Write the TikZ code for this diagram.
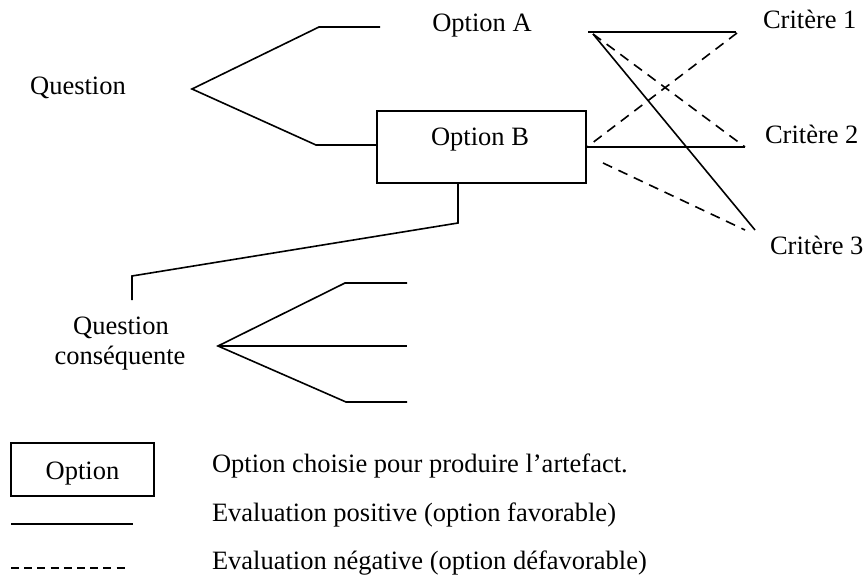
\documentclass[tikz,border=0pt]{standalone}
\usepackage{fontspec}
\setmainfont{Liberation Serif}
\begin{document}
\begin{tikzpicture}[x=0.5pt,y=-0.5pt,
  lbl/.style={inner sep=0pt,outer sep=0pt,font=\fontsize{13.25}{15}\selectfont},
  ln/.style={line width=0.8pt,line join=miter},
  dsh/.style={line width=0.8pt,dash pattern=on 5pt off 3.5pt},
  ldsh/.style={line width=0.8pt,dash pattern=on 4pt off 2.6pt},
  boxstyle/.style={draw,line width=0.8pt,inner sep=0pt}]
\useasboundingbox (0,0) rectangle (865,587);

% texts
\node[lbl,anchor=base] (q) at (78,95) {Question};
\node[lbl,anchor=base] (oa) at (482,32) {Option A};
\node[boxstyle,minimum width=104.5pt,minimum height=36pt] (ob) at (481.5,147) {};
\node[lbl,anchor=base] (obt) at (480,146) {Option B};
\node[lbl,anchor=base west] (c1) at (763,29) {Critère 1};
\node[lbl,anchor=base west] (c2) at (765,144) {Critère 2};
\node[lbl,anchor=base west] (c3) at (770,255) {Critère 3};
\node[lbl,anchor=base] (qc1) at (121,334) {Question};
\node[lbl,anchor=base] (qc2) at (120,364) {conséquente};

% coordinates
\coordinate (qf) at (192,89);
\coordinate (qu) at (319,27);
\coordinate (que) at (380,27);
\coordinate (ql) at (316,145);
\coordinate (qle) at (377,145);
\coordinate (bb) at (458,183);
\coordinate (bk1) at (458,223);
\coordinate (bk2) at (132,276);
\coordinate (bk3) at (132,300);
\coordinate (cf) at (218,346);
\coordinate (cu) at (345,283);
\coordinate (cue) at (407,283);
\coordinate (cme) at (407,346);
\coordinate (cl) at (346,402);
\coordinate (cle) at (407,402);
\coordinate (a1) at (588,32);
\coordinate (a1e) at (736,32);
\coordinate (a2) at (593,34);
\coordinate (k1) at (737,33);
\coordinate (k2) at (745,147);
\coordinate (k3) at (755,230);
\coordinate (k3d) at (745,230);
\coordinate (b1) at (587,147);
\coordinate (b2) at (603,163);

% question fork
\draw[ln] (que) -- (qu) -- (qf) -- (ql) -- (qle);
% from option B down to consequent question
\draw[ln] (bb) -- (bk1) -- (bk2) -- (bk3);
% consequent fork
\draw[ln] (cue) -- (cu) -- (cf) -- (cl) -- (cle);
\draw[ln] (cf) -- (cme);

% evaluations
\draw[ln] (a1) -- (a1e);
\draw[dsh] (k1) -- (b1);
\draw[ln] (b1) -- (k2);
\draw[dsh] (a2) -- (k2);
\draw[ln] (a2) -- (k3);
\draw[dsh] (b2) -- (k3d);

% legend
\node[boxstyle,minimum width=71.5pt,minimum height=26.5pt] (lb) at (82.5,469.5) {};
\node[lbl,anchor=base] (lbt) at (82.5,479) {Option};
\node[lbl,anchor=base west] (l1) at (212,472) {Option choisie pour produire l’artefact.};
\node[lbl,anchor=base west] (l2) at (212,521) {Evaluation positive (option favorable)};
\node[lbl,anchor=base west] (l3) at (212,569) {Evaluation négative (option défavorable)};
\coordinate (ls1) at (11,524);
\coordinate (ls2) at (133,524);
\coordinate (ld1) at (11,568);
\coordinate (ld2) at (125,568);
\draw[ln] (ls1) -- (ls2);
\draw[ldsh] (ld1) -- (ld2);
\end{tikzpicture}
\end{document}
